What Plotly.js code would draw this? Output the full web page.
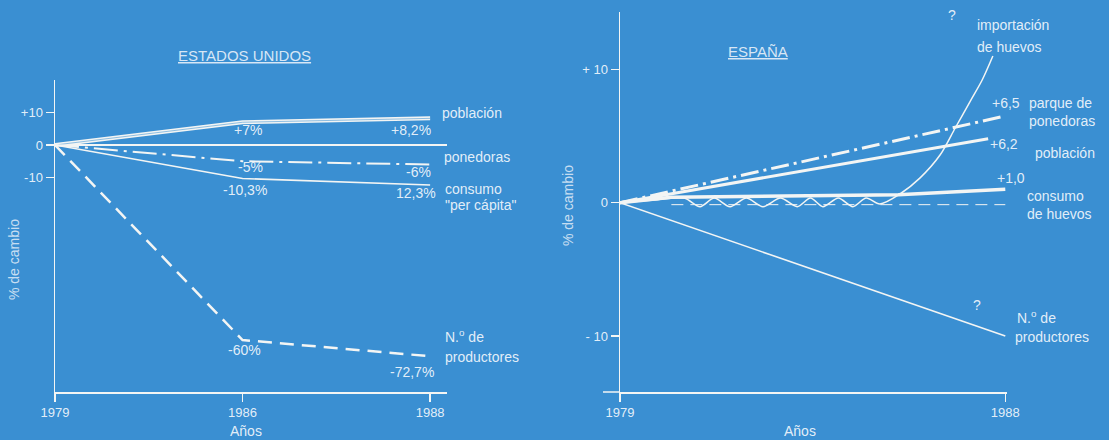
<!DOCTYPE html>
<html>
<head>
<meta charset="utf-8">
<script src="https://cdn.plot.ly/plotly-3.0.1.min.js"></script>
<style>
  html, body { margin: 0; padding: 0; background: #3a8fd2; }
  #chart { width: 1109px; height: 440px; }
</style>
</head>
<body>
<div id="chart"></div>
<script>
// ---------- DATA: ESTADOS UNIDOS ----------
const usYears = ['1979', '1986', '1988'];
const usPoblacion = [0, 7, 8.2];
const usPonedoras = [0, -5, -6];
const usConsumo = [0, -10.3, -12.3];
const usProductores = [0, -60, -65];      // line as drawn (label reads -72,7%)
const usTickVals = [10, 0, -10];
const usTickText = ['+10', '0', '-10'];

// ---------- DATA: ESPAÑA ----------
const esYears = [1979, 1988];
const esTickYears = ['1979', '1988'];
const esParque = [0, 6.5];
const esPoblacionYears = [1979, 1987.6];
const esPoblacion = [0, 4.8];              // line as drawn (label reads +6,2)
const esConsumoYears = [1979, 1980.2, 1985.5, 1988];
const esConsumo = [0, 0.4, 0.6, 1.0];
const esBaseYears = [1980.2, 1988];
const esBase = [-0.15, -0.15];
const esProductores = [0, -10];
const esImportYears = [1979, 1979.8, 1980.5, 1980.87, 1981.2, 1981.57, 1981.95, 1982.34, 1982.75, 1983.14,
  1983.45, 1983.74, 1984.1, 1984.44, 1984.75, 1985.07, 1985.54, 1986.01, 1986.48, 1986.83, 1987.18, 1987.46, 1987.71];
const esImport = [0, 0.2, 0.35, -0.3, 0.35, -0.3, 0.35, -0.3, 0.35, -0.3,
  0.35, -0.3, 0.35, -0.3, 0.35, -0.1, 0.65, 1.86, 3.59, 5.6, 7.6, 9.2, 11.0];
const esTickVals = [10, 0, -10];
const esTickText = ['+ 10', '0', '- 10'];

// ---------- STYLE ----------
const W = 1109, H = 440;
const BG = '#3a8fd2';
const LINE = '#f3f5f4';
const TXT = 'rgba(242,247,252,0.93)';
const FONT = 'Liberation Sans, Arial, sans-serif';
const px = v => v / W;
const py = v => 1 - v / H;

const traces = [
  // US
  {x: usYears, y: usPoblacion, xaxis: 'x', yaxis: 'y', mode: 'lines', line: {color: LINE, width: 4}},
  {x: usYears, y: usPoblacion, xaxis: 'x', yaxis: 'y', mode: 'lines', line: {color: 'rgba(58,143,210,0.55)', width: 1}},
  {x: usYears, y: usPonedoras, xaxis: 'x', yaxis: 'y', mode: 'lines', line: {color: LINE, width: 2, dash: '24px,6px,3px,6px'}},
  {x: usYears, y: usConsumo, xaxis: 'x', yaxis: 'y', mode: 'lines', line: {color: LINE, width: 1.6}},
  {x: usYears, y: usProductores, xaxis: 'x', yaxis: 'y', mode: 'lines', line: {color: LINE, width: 2.5, dash: '14px,8px'}},
  // España
  {x: esBaseYears, y: esBase, xaxis: 'x2', yaxis: 'y2', mode: 'lines', line: {color: LINE, width: 1, dash: '12px,7px'}},
  {x: esImportYears, y: esImport, xaxis: 'x2', yaxis: 'y2', mode: 'lines', line: {color: LINE, width: 1.5, shape: 'spline', smoothing: 0.8}},
  {x: esConsumoYears, y: esConsumo, xaxis: 'x2', yaxis: 'y2', mode: 'lines', line: {color: LINE, width: 3.5}},
  {x: esPoblacionYears, y: esPoblacion, xaxis: 'x2', yaxis: 'y2', mode: 'lines', line: {color: LINE, width: 3}},
  {x: esYears, y: esParque, xaxis: 'x2', yaxis: 'y2', mode: 'lines', line: {color: LINE, width: 3, dash: '18px,5px,3px,5px'}},
  {x: esYears, y: esProductores, xaxis: 'x2', yaxis: 'y2', mode: 'lines', line: {color: LINE, width: 1.6}}
];

const axisCommon = {
  showline: true, linecolor: LINE, linewidth: 1.5,
  ticks: 'outside', ticklen: 8, tickwidth: 1.5, tickcolor: LINE,
  showgrid: false, fixedrange: true,
  tickfont: {family: FONT, size: 13, color: TXT}
};

function ann(text, x, y, opts) {
  return Object.assign({
    text: text, x: px(x), y: py(y), xref: 'paper', yref: 'paper',
    xanchor: 'left', yanchor: 'middle', showarrow: false,
    font: {family: FONT, size: 14, color: TXT}
  }, opts || {});
}
const C = {xanchor: 'center'};
const TITLE_FONT = {family: FONT, size: 15, color: 'rgba(238,244,251,0.88)'};
const YT_FONT = {family: FONT, size: 14, color: 'rgba(238,244,251,0.8)'};

const annotations = [
  // US
  ann('<u>ESTADOS UNIDOS</u>', 244, 56, {xanchor: 'center', font: TITLE_FONT}),
  ann('+7%', 248, 130, C), ann('+8,2%', 411, 130, C),
  ann('-5%', 250, 167, C), ann('-6%', 418, 172, C),
  ann('-10,3%', 245, 190, C), ann('12,3%', 416, 193, C),
  ann('-60%', 244, 350, C), ann('-72,7%', 412, 372, C),
  ann('población', 440, 113), ann('ponedoras', 442, 157),
  ann('consumo', 443, 189), ann('"per cápita"', 443, 205),
  ann('N.<sup>o</sup> de', 443, 336), ann('productores', 443, 357),
  ann('Años', 246, 431, C),
  ann('% de cambio', 14, 260, {xanchor: 'center', textangle: -90, font: YT_FONT}),
  // España
  ann('<u>ESPAÑA</u>', 758, 52, {xanchor: 'center', font: TITLE_FONT}),
  ann('?', 952, 15, C), ann('importación', 975, 25), ann('de huevos', 975, 47),
  ann('+6,5', 990, 103), ann('parque de', 1027, 103), ann('ponedoras', 1027, 121),
  ann('+6,2', 988, 144), ann('población', 1033, 153),
  ann('+1,0', 995, 178), ann('consumo', 1025, 196), ann('de huevos', 1025, 214),
  ann('?', 977, 305, C), ann('N.<sup>o</sup> de', 1015, 317), ann('productores', 1013, 337),
  ann('Años', 800, 431, C),
  ann('% de cambio', 568, 206, {xanchor: 'center', textangle: -90, font: YT_FONT})
];

const layout = {
  width: W, height: H,
  margin: {l: 0, r: 0, t: 0, b: 0},
  paper_bgcolor: BG, plot_bgcolor: 'rgba(0,0,0,0)',
  showlegend: false,
  xaxis: Object.assign({}, axisCommon, {
    type: 'category', domain: [px(55), px(447)], range: [0, 2.09], anchor: 'y', zeroline: false
  }),
  yaxis: Object.assign({}, axisCommon, {
    domain: [py(392), py(80)], range: [-76, 20], anchor: 'x',
    tickvals: usTickVals, ticktext: usTickText,
    zeroline: true, zerolinecolor: LINE, zerolinewidth: 1.5
  }),
  xaxis2: Object.assign({}, axisCommon, {
    domain: [px(620), px(1007)], range: [1979, 1988.04], anchor: 'y2', zeroline: false,
    tickvals: esYears, ticktext: esTickYears
  }),
  yaxis2: Object.assign({}, axisCommon, {
    domain: [py(392), py(12)], range: [-14.2, 14.3], anchor: 'x2', zeroline: false,
    tickvals: esTickVals, ticktext: esTickText
  }),
  shapes: [
    {type: 'line', xref: 'paper', yref: 'paper', x0: px(603), x1: px(620), y0: py(392), y1: py(392),
     line: {color: LINE, width: 1.5}}
  ],
  annotations: annotations
};

Plotly.newPlot('chart', traces, layout, {displayModeBar: false, staticPlot: true});
</script>
</body>
</html>
